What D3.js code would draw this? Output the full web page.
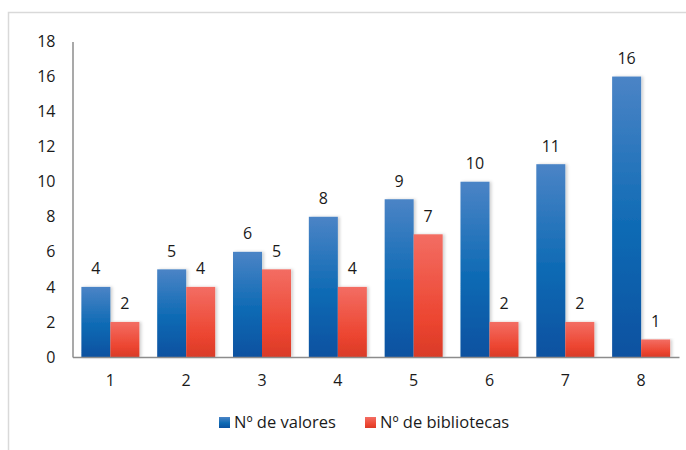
<!DOCTYPE html>
<html><head><meta charset="utf-8">
<script src="https://cdn.jsdelivr.net/npm/d3@7"></script>
<style>body{margin:0;background:#fff}svg{display:block;font-family:"Open Sans","Noto Sans",sans-serif}</style>
</head><body><svg id="c" width="686" height="450"></svg>
<script>
const categories = ["1","2","3","4","5","6","7","8"];
const seriesNames = ["Nº de valores","Nº de bibliotecas"];
const valores = [4,5,6,8,9,10,11,16];
const bibliotecas = [2,4,5,4,7,2,2,1];
const yTicks = [0,2,4,6,8,10,12,14,16,18];

const svg = d3.select("#c");
const defs = svg.append("defs");
const gb = defs.append("linearGradient").attr("id","gBlue").attr("x1",0).attr("y1",0).attr("x2",0).attr("y2",1);
gb.append("stop").attr("offset","0%").attr("stop-color","#4b84c6");
gb.append("stop").attr("offset","55%").attr("stop-color","#0d6ab4");
gb.append("stop").attr("offset","100%").attr("stop-color","#0a51a0");
const gr = defs.append("linearGradient").attr("id","gRed").attr("x1",0).attr("y1",0).attr("x2",0).attr("y2",1);
gr.append("stop").attr("offset","0%").attr("stop-color","#f36d63");
gr.append("stop").attr("offset","70%").attr("stop-color","#ec4530");
gr.append("stop").attr("offset","100%").attr("stop-color","#d93b28");
const sh = defs.append("filter").attr("id","sh").attr("x","-20%").attr("y","-5%").attr("width","150%").attr("height","110%");
sh.append("feDropShadow").attr("dx",2).attr("dy",0).attr("stdDeviation",1.5).attr("flood-color","#000").attr("flood-opacity",0.18);

svg.append("rect").attr("x",8.5).attr("y",12.5).attr("width",700).attr("height",460)
  .attr("fill","none").attr("stroke","#d9d9d9").attr("stroke-width",1.5);

const pLeft = 72.5, pRight = 679, pTop = 41.5, pBottom = 357;
const x = d3.scaleBand().domain(categories).range([pLeft,pRight]).paddingInner(0.235).paddingOuter(0.117);
const x1 = d3.scaleBand().domain(seriesNames).range([0,x.bandwidth()]);
const y = d3.scaleLinear().domain([0,18]).range([pBottom,pTop]);

const fills = ["url(#gBlue)","url(#gRed)"];
const data = categories.map((c,i)=>({c, vals:[valores[i],bibliotecas[i]]}));

const groups = svg.append("g").selectAll("g").data(data).join("g")
  .attr("transform",d=>`translate(${x(d.c)},0)`);
groups.selectAll("rect").data(d=>d.vals.map((v,k)=>({v,k}))).join("rect")
  .attr("x",d=>x1(seriesNames[d.k])).attr("width",x1.bandwidth())
  .attr("y",d=>y(d.v)).attr("height",d=>pBottom-y(d.v))
  .attr("fill",d=>fills[d.k]).attr("filter","url(#sh)");
groups.selectAll("text").data(d=>d.vals.map((v,k)=>({v,k}))).join("text")
  .attr("x",d=>x1(seriesNames[d.k])+x1.bandwidth()/2).attr("y",d=>y(d.v)-12.5)
  .attr("text-anchor","middle").attr("font-size",16).attr("fill","#1a1a1a").text(d=>d.v);

// y axis
const ya = svg.append("g").attr("transform",`translate(${pLeft},0)`)
  .call(d3.axisLeft(y).tickValues(yTicks).tickSize(0).tickPadding(17));
ya.select(".domain").attr("stroke","#8c8c8c").attr("stroke-width",1.5);
ya.selectAll("text").attr("font-size",16).attr("fill","#1a1a1a").attr("font-family","'Open Sans','Noto Sans',sans-serif");

// x axis
const xa = svg.append("g").attr("transform",`translate(0,${pBottom})`)
  .call(d3.axisBottom(x).tickSize(0).tickPadding(18));
xa.select(".domain").attr("stroke","#8c8c8c").attr("stroke-width",1.5);
xa.selectAll("text").attr("font-size",16).attr("fill","#1a1a1a").attr("font-family","'Open Sans','Noto Sans',sans-serif");

// legend
const leg = svg.append("g");
const legX = [219, 365];
seriesNames.forEach((n,k)=>{
  leg.append("rect").attr("x",legX[k]).attr("y",417).attr("width",11).attr("height",11).attr("fill",fills[k]);
  leg.append("text").attr("x",legX[k]+15).attr("y",428).attr("font-size",16.5).attr("fill","#1a1a1a").text(n);
});
</script></body></html>
